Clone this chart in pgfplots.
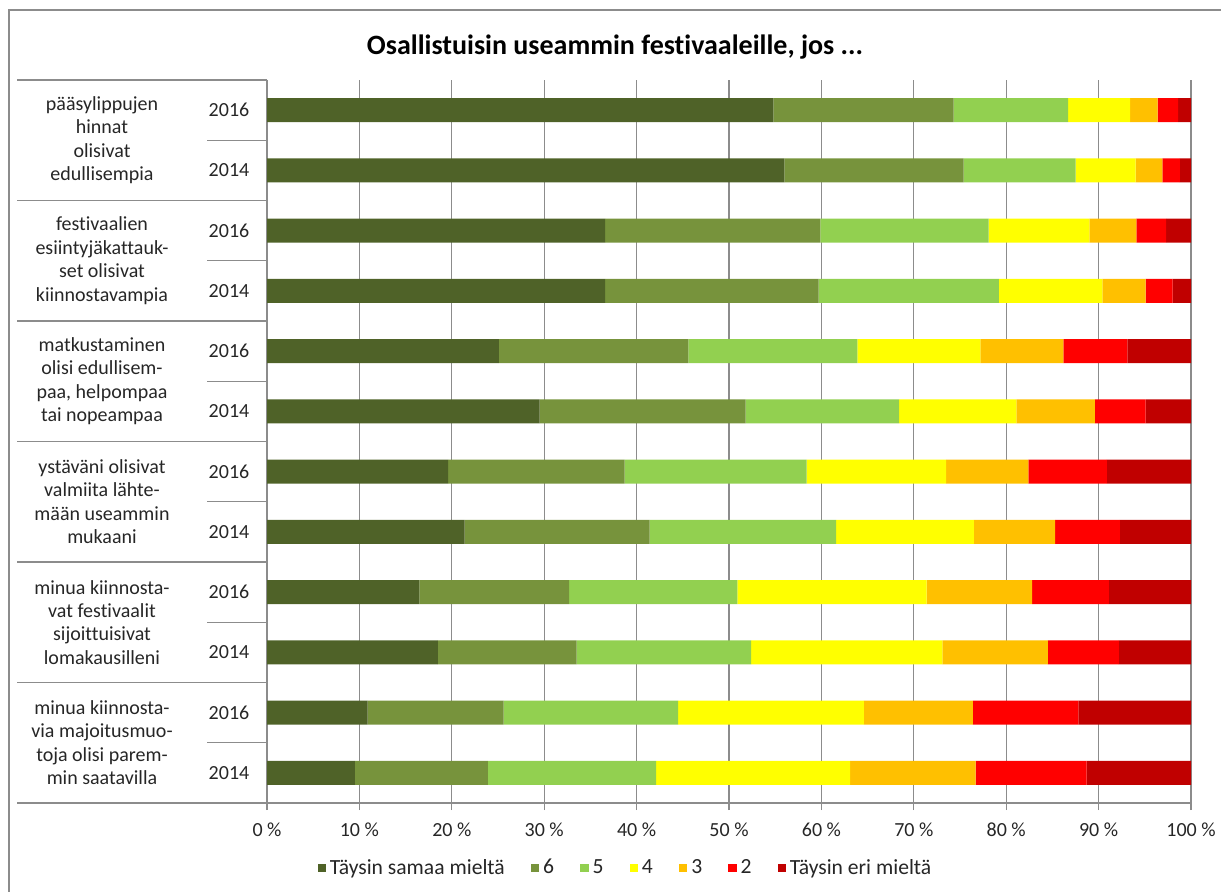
\documentclass[border=0pt]{standalone}
\usepackage{fontspec}
\setmainfont{Carlito}[Ligatures=NoCommon]
\usepackage{pgfplots}
\usepackage{pgfplotstable}
\pgfplotsset{compat=1.18}

\definecolor{k7}{HTML}{4F6228}
\definecolor{k6}{HTML}{77933C}
\definecolor{k5}{HTML}{92D050}
\definecolor{k4}{HTML}{FFFF00}
\definecolor{k3}{HTML}{FFC000}
\definecolor{k2}{HTML}{FF0000}
\definecolor{k1}{HTML}{C00000}
\definecolor{viiva}{HTML}{8C8C8C}

% rivi 0 = ylin palkki; osuudet prosentteina (7 = taysin samaa ... 1 = taysin eri)
\pgfplotstableread{
rivi a    b    c    d    e    f    g
0    54.8 19.5 12.4 6.7  3.0  2.2  1.4
1    56.0 19.4 12.1 6.5  2.9  1.9  1.2
2    36.6 23.3 18.2 10.9 5.1  3.2  2.7
3    36.6 23.1 19.5 11.2 4.7  2.9  2.0
4    25.1 20.5 18.3 13.3 9.0  6.9  6.9
5    29.5 22.3 16.6 12.7 8.5  5.5  4.9
6    19.6 19.1 19.7 15.1 8.9  8.5  9.1
7    21.4 20.0 20.2 14.9 8.8  7.0  7.7
8    16.5 16.2 18.2 20.5 11.4 8.3  8.9
9    18.5 15.0 18.9 20.7 11.4 7.7  7.8
10   10.9 14.7 18.9 20.1 11.8 11.4 12.2
11   9.5  14.4 18.2 21.0 13.6 12.0 11.3
}\osuudet

\pgfplotsset{
  nelio/.style={/pgfplots/legend image code/.code={\fill[##1] (0pt,-2.1pt) rectangle (4.2pt,2.1pt);}},
}

\begin{document}
\begin{tikzpicture}
\path[use as bounding box] (0pt,0pt) rectangle (610.5pt,-446pt);

\begin{scope}[x=0.5pt,y=-0.5pt]
  % kehys
  \draw[viiva, line width=0.7pt] (9,892) -- (9,10) -- (1221,10);
  % otsikko
  \node[font=\fontsize{14}{16}\bfseries\selectfont] at (615,47) {Osallistuisin useammin festivaaleille, jos ...};
  % taulukon viivat
  \draw[viiva, line width=0.65pt] (17,80) -- (267,80);
  \foreach \k in {1,...,6}
    \draw[viiva, line width=0.65pt] (17,80+120.5*\k) -- (267,80+120.5*\k);
  \foreach \k in {0,...,5}
    \draw[viiva, line width=0.65pt] (207,140.25+120.5*\k) -- (267,140.25+120.5*\k);
  \draw[viiva, line width=0.65pt] (267,80) -- (267,803);
  % ryhmien nimet
  \foreach \t [count=\k from 0] in {
      {pääsylippujen\\hinnat\\olisivat\\edullisempia},
      {festivaalien\\esiintyjäkattauk-\\set olisivat\\kiinnostavampia},
      {matkustaminen\\olisi edullisem-\\paa, helpompaa\\tai nopeampaa},
      {ystäväni olisivat\\valmiita lähte-\\mään useammin\\mukaani},
      {minua kiinnosta-\\vat festivaalit\\sijoittuisivat\\lomakausilleni},
      {minua kiinnosta-\\via majoitusmuo-\\toja olisi parem-\\min saatavilla}}
    \node[align=center, font=\fontsize{10}{11.7}\selectfont, text=black!85] at (102,140.25+120.5*\k) {\t};
  \foreach \k in {0,...,5} {
    \node[font=\fontsize{10}{12}\selectfont, text=black!85] at (229,110.1+120.5*\k) {2016};
    \node[font=\fontsize{10}{12}\selectfont, text=black!85] at (229,170.4+120.5*\k) {2014};
  }
\end{scope}

\begin{axis}[
  at={(133.5pt,-401.5pt)}, anchor=south west,
  scale only axis, width=462pt, height=361.5pt,
  xbar stacked, bar width=12pt,
  xmin=0, xmax=100, ymin=-0.5, ymax=11.5, y dir=reverse,
  axis x line=bottom, axis y line=none,
  x axis line style={-, draw=viiva, line width=0.65pt},
  xtick={0,10,...,100},
  xticklabels={0 \%,10 \%,20 \%,30 \%,40 \%,50 \%,60 \%,70 \%,80 \%,90 \%,100 \%},
  xticklabel style={font=\fontsize{10}{12}\selectfont, text=black!85, yshift=-3pt},
  tick align=outside, major tick length=3.5pt,
  xtick style={draw=viiva, line width=0.65pt},
  ytick=\empty,
  xmajorgrids, grid style={draw=viiva, line width=0.65pt},
  legend columns=7,
  legend style={at={(0.389,-0.09)}, anchor=center, draw=none,
    font=\fontsize{10.8}{12}\selectfont, text=black!85,
    /tikz/every even column/.append style={column sep=11pt}},
]
\addplot[fill=k7, draw=none, nelio] table[x=a, y=rivi] {\osuudet};
\addlegendentry{Täysin samaa mieltä}
\addplot[fill=k6, draw=none, nelio] table[x=b, y=rivi] {\osuudet};
\addlegendentry{6}
\addplot[fill=k5, draw=none, nelio] table[x=c, y=rivi] {\osuudet};
\addlegendentry{5}
\addplot[fill=k4, draw=none, nelio] table[x=d, y=rivi] {\osuudet};
\addlegendentry{4}
\addplot[fill=k3, draw=none, nelio] table[x=e, y=rivi] {\osuudet};
\addlegendentry{3}
\addplot[fill=k2, draw=none, nelio] table[x=f, y=rivi] {\osuudet};
\addlegendentry{2}
\addplot[fill=k1, draw=none, nelio] table[x=g, y=rivi] {\osuudet};
\addlegendentry{Täysin eri mieltä}
\end{axis}
\end{tikzpicture}
\end{document}
